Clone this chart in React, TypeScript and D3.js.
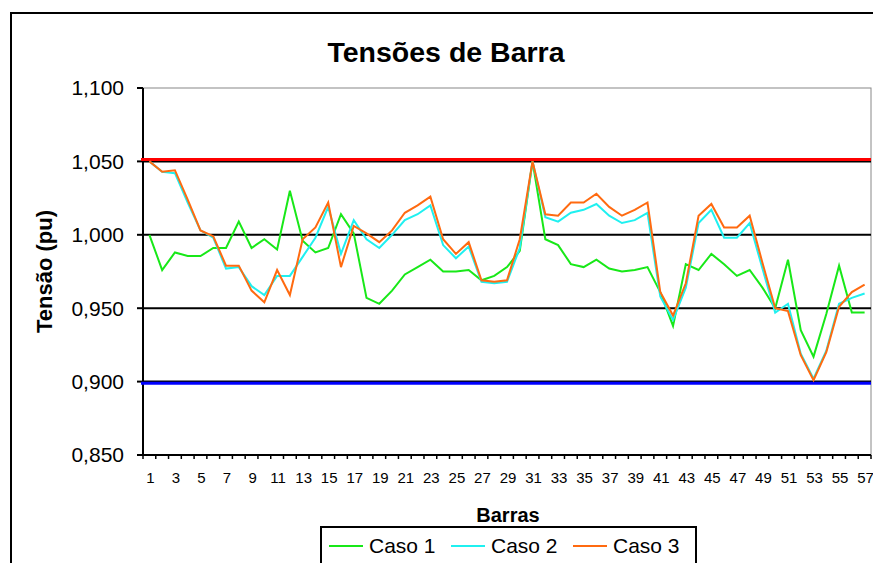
import React from 'react'
import * as d3 from 'd3'

// bus voltages (pu)
const barras = d3.range(1, 58)
const caso1 = [
  1.0, 0.976, 0.988, 0.9855, 0.9855, 0.991, 0.991, 1.009, 0.991, 0.997,
  0.99, 1.03, 0.996, 0.988, 0.991, 1.014, 1.001, 0.957, 0.953, 0.962,
  0.973, 0.978, 0.983, 0.975, 0.975, 0.976, 0.969, 0.972, 0.978, 0.989,
  1.05, 0.997, 0.993, 0.98, 0.978, 0.983, 0.977, 0.975, 0.976, 0.978,
  0.961, 0.938, 0.98, 0.976, 0.987, 0.98, 0.972, 0.976, 0.964, 0.95,
  0.983, 0.935, 0.917, 0.946, 0.979, 0.947, 0.947,
]
const caso2 = [
  1.05, 1.043, 1.042, 1.022, 1.003, 0.998, 0.977, 0.978, 0.965, 0.959,
  0.972, 0.972, 0.985, 0.998, 1.019, 0.987, 1.01, 0.997, 0.991, 1.0,
  1.01, 1.014, 1.02, 0.993, 0.984, 0.992, 0.968, 0.967, 0.968, 0.991,
  1.05, 1.012, 1.009, 1.015, 1.017, 1.021, 1.013, 1.008, 1.01, 1.015,
  0.958, 0.942, 0.964, 1.008, 1.017, 0.998, 0.998, 1.008, 0.977, 0.947,
  0.953, 0.919, 0.902, 0.921, 0.953, 0.957, 0.96,
]
const caso3 = [
  1.05, 1.043, 1.044, 1.024, 1.003, 0.999, 0.979, 0.979, 0.962, 0.954,
  0.976, 0.959, 0.997, 1.005, 1.022, 0.978, 1.006, 1.001, 0.995, 1.003,
  1.015, 1.02, 1.026, 0.997, 0.987, 0.995, 0.969, 0.968, 0.969, 0.997,
  1.05, 1.014, 1.013, 1.022, 1.022, 1.028, 1.019, 1.013, 1.017, 1.022,
  0.961, 0.945, 0.967, 1.013, 1.021, 1.005, 1.005, 1.013, 0.981, 0.95,
  0.948, 0.918, 0.901, 0.92, 0.951, 0.961, 0.966,
]
const yTicks = [0.85, 0.9, 0.95, 1.0, 1.05, 1.1]
const gridTicks = [0.9, 0.95, 1.0, 1.05]
// limits (drawn a hair off the gridlines, like the original)
const limiteSup = 1.0513
const limiteInf = 0.8988

const series = [
  { name: 'Caso 1', values: caso1, color: '#18e818' },
  { name: 'Caso 2', values: caso2, color: '#1ff0f0' },
  { name: 'Caso 3', values: caso3, color: '#ff6a10' },
]

const W = 873
const H = 563
const left = 143
const right = 871
const top = 88
const bottom = 455

export default function App() {
  const x = d3
    .scaleBand<number>()
    .domain(barras)
    .range([left, right])
    .padding(0)
  const y = d3.scaleLinear().domain([0.85, 1.1]).range([bottom, top])
  const cx = (b: number) => (x(b) as number) + x.bandwidth() / 2
  const fmt = (v: number) => d3.format('.3f')(v).replace('.', ',')

  const line = d3
    .line<number>()
    .x((_, i) => cx(barras[i]))
    .y((d) => y(d))

  const font = 'Arial, "Liberation Sans", sans-serif'

  return (
    <div style={{ position: 'absolute', left: 0, top: 0 }}>
      <svg width={W} height={H} style={{ display: 'block', fontFamily: font }}>
        <rect x={0} y={0} width={W} height={H} fill="#fff" />
        {/* chart border */}
        <rect x={11} y={13} width={W + 20} height={H + 20} fill="none" stroke="#000" strokeWidth={2} />

        <text x={446} y={62} textAnchor="middle" fontSize={28.5} fontWeight="bold">
          Tensões de Barra
        </text>

        {/* plot area border */}
        <rect x={left} y={top} width={right - left} height={bottom - top} fill="none" stroke="#888" strokeWidth={1} />

        {gridTicks.map((t) => (
          <line key={t} x1={left} x2={right} y1={y(t)} y2={y(t)} stroke="#000" strokeWidth={2} />
        ))}

        {/* y axis */}
        <line x1={left} x2={left} y1={top} y2={bottom} stroke="#000" strokeWidth={2} />
        {yTicks.map((t) => (
          <g key={t}>
            <line x1={left - 6} x2={left} y1={y(t)} y2={y(t)} stroke="#000" strokeWidth={2} />
            <text x={124} y={y(t)} dy="0.35em" textAnchor="end" fontSize={21}>
              {fmt(t)}
            </text>
          </g>
        ))}

        {/* x axis */}
        <line x1={left} x2={right} y1={bottom} y2={bottom} stroke="#000" strokeWidth={2} />
        {barras.concat([58]).map((b) => {
          const xx = b === 58 ? right : (x(b) as number)
          return <line key={'t' + b} x1={xx} x2={xx} y1={bottom} y2={bottom + 4} stroke="#000" strokeWidth={1.5} />
        })}
        {barras
          .filter((b) => b % 2 === 1)
          .map((b) => (
            <text key={'l' + b} x={cx(b) + 1} y={483} textAnchor="middle" fontSize={15}>
              {b}
            </text>
          ))}

        {/* limits */}
        <line x1={left - 2} x2={right} y1={y(limiteSup)} y2={y(limiteSup)} stroke="#ff0000" strokeWidth={3} />
        <line x1={left - 2} x2={right} y1={y(limiteInf)} y2={y(limiteInf)} stroke="#0000ff" strokeWidth={3} />

        {series.map((s) => (
          <path key={s.name} d={line(s.values) || ''} fill="none" stroke={s.color} strokeWidth={2} strokeLinejoin="miter" />
        ))}

        <text
          transform={`translate(52, ${(top + bottom) / 2}) rotate(-90)`}
          textAnchor="middle"
          fontSize={22}
          fontWeight="bold"
        >
          Tensão (pu)
        </text>

        <text x={508} y={522} textAnchor="middle" fontSize={20} fontWeight="bold">
          Barras
        </text>

        {/* legend */}
        <rect x={321} y={527} width={375} height={45} fill="#fff" stroke="#000" strokeWidth={2} />
        {series.map((s, i) => {
          const lx = 329 + i * 122
          return (
            <g key={'lg' + s.name}>
              <line x1={lx} x2={lx + 34} y1={546} y2={546} stroke={s.color} strokeWidth={2} />
              <text x={lx + 40} y={553} fontSize={21}>
                {s.name}
              </text>
            </g>
          )
        })}
      </svg>
    </div>
  )
}
